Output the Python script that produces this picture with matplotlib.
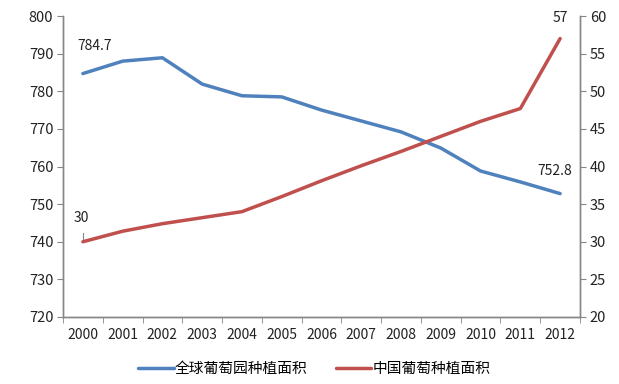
import matplotlib
matplotlib.use("Agg")
import matplotlib.pyplot as plt

plt.rcParams['font.family'] = ['Noto Sans CJK SC', 'DejaVu Sans']

years = ["2000", "2001", "2002", "2003", "2004", "2005", "2006",
         "2007", "2008", "2009", "2010", "2011", "2012"]
world = [784.7, 788.0, 788.9, 781.9, 778.8, 778.5, 775.0,
         772.1, 769.2, 764.9, 758.8, 755.9, 752.8]
china = [30.0, 31.4, 32.4, 33.2, 34.0, 36.0, 38.1,
         40.1, 42.0, 44.0, 46.0, 47.7, 57.0]
name_world = "全球葡萄园种植面积"
name_china = "中国葡萄种植面积"

blue = "#4F81BD"
red = "#C0504D"
axc = "#868686"

fig = plt.figure(figsize=(6.19, 3.84), dpi=100)
ax = fig.add_axes([63/619, 1-317/384, (580-63)/619, (317-16)/384])
ax2 = ax.twinx()

x = list(range(len(years)))
l1, = ax.plot(x, world, color=blue, lw=2.5, solid_capstyle='round', label=name_world)
l2, = ax2.plot(x, china, color=red, lw=2.5, solid_capstyle='round', label=name_china)

ax.set_xlim(-0.5, len(years) - 0.5)
ax.set_ylim(720, 800)
ax.set_yticks(range(720, 801, 10))
ax2.set_ylim(20, 60)
ax2.set_yticks(range(20, 61, 5))

ax.set_xticks(x)
ax.set_xticklabels(years)
ax.set_xticks([i + 0.5 for i in range(-1, len(years))], minor=True)
ax.tick_params(axis='x', which='major', length=0, pad=8, labelsize=10, colors='#222222')
ax.tick_params(axis='x', which='minor', length=4, color=axc, direction='out')
ax.tick_params(axis='y', length=4, labelsize=10.5, colors='#222222', pad=3)
ax2.tick_params(axis='y', length=4, labelsize=10.5, colors='#222222', pad=3)

for a in (ax, ax2):
    a.spines['top'].set_visible(False)
    for s in ('left', 'right', 'bottom'):
        a.spines[s].set_color(axc)
        a.spines[s].set_linewidth(1.0)
ax.tick_params(axis='y', color=axc)
ax2.tick_params(axis='y', color=axc)

# data labels
ax.annotate(f"{world[0]:g}", (x[0], world[0]), xytext=(-4, 20), textcoords='offset points',
            fontsize=10, color='#222222', ha='left', va='center')
ax.annotate(f"{world[-1]:g}", (x[-1], world[-1]), xytext=(-4, 16), textcoords='offset points',
            fontsize=10, color='#222222', ha='center', va='center')
ax2.annotate(f"{china[0]:g}", (x[0], china[0]), xytext=(-1, 17), textcoords='offset points',
             fontsize=10, color='#222222', ha='center', va='center')
ax2.plot([x[0], x[0]], [china[0] + 0.3, china[0] + 1.2], color=axc, lw=0.8)
ax2.annotate(f"{china[-1]:g}", (x[-1], china[-1]), xytext=(0, 15), textcoords='offset points',
             fontsize=10, color='#222222', ha='center', va='center')

fig.legend(handles=[l1, l2], loc='center', bbox_to_anchor=(0.508, 1-369/384), ncol=2,
           frameon=False, fontsize=10.6, handlelength=2.4, columnspacing=1.9, handletextpad=0.1)

fig.savefig("out.png", dpi=100)
